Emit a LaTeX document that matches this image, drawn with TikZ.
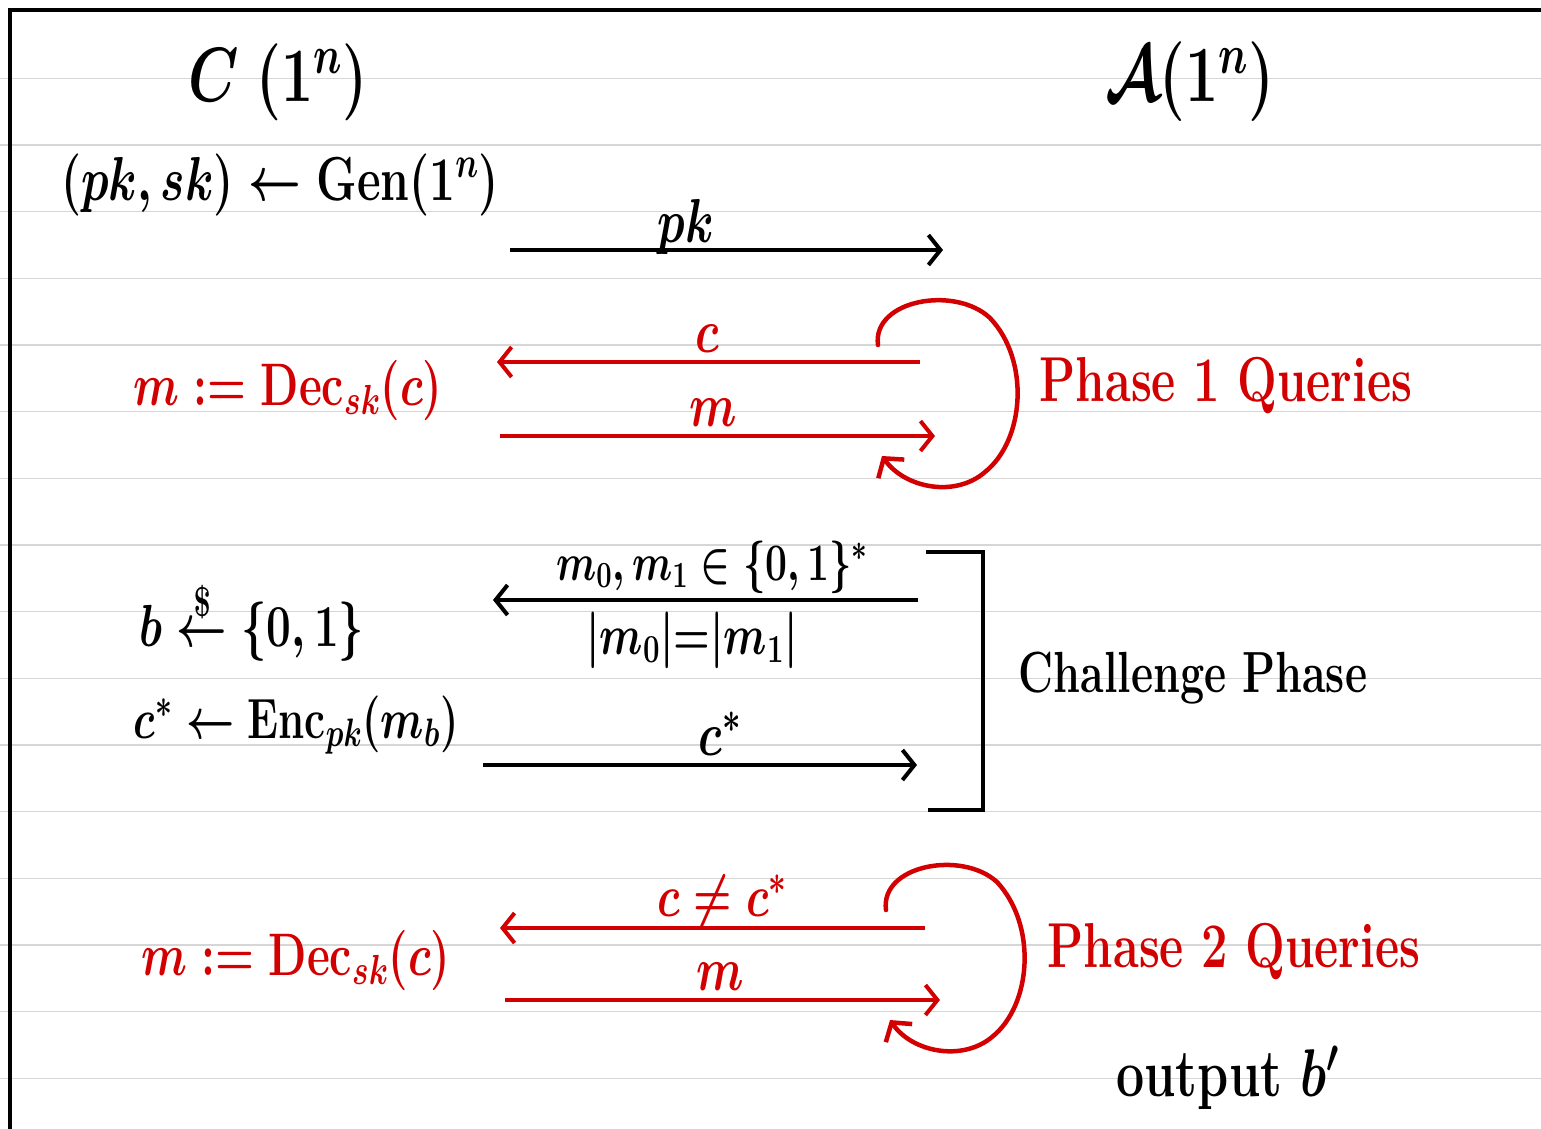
\RequirePackage{fix-cm}
\documentclass[tikz,border=0pt]{standalone}
\usepackage{amsmath}
\usetikzlibrary{arrows.meta}
\definecolor{hred}{RGB}{210,0,0}
\definecolor{rulegray}{RGB}{214,214,214}
\newcommand{\hwstretch}[1]{\scalebox{1}[1.35]{#1}}
\tikzset{
  hw/.style={font=\fontsize{#1}{#1}\selectfont\bfseries\boldmath, inner sep=0pt},
  hw/.default=46,
  redtxt/.style={hw=#1, text=hred},
  redtxt/.default=46,
  msg/.style={line width=4pt, -{Straight Barb[length=12pt,width=30pt]}},
  redmsg/.style={msg, draw=hred},
  ruleline/.style={draw=rulegray, line width=1.5pt},
  frame/.style={line width=4pt, line cap=rect},
  loopline/.style={draw=hred, line width=4.5pt, line cap=round, -{Straight Barb[length=13pt,width=32pt]}}
}
\begin{document}
\begin{tikzpicture}[x=1pt,y=-1pt]
\useasboundingbox (0,0) rectangle (1541,1128);
\fill[white] (0,0) rectangle (1541,1128);
% ruled paper
\foreach \k in {0,...,15}{
  \draw[ruleline] (0,{78.3+66.67*\k}) -- (1541,{78.3+66.67*\k});
}
% frame
\draw[frame] (10,1128) -- (10,10) -- (1541,10);

% parties
\node[hw=57] (C) at (278,82) {\hwstretch{$C\;(1^n)$}};
\node[hw=59] (A) at (1190,82) {\hwstretch{$\mathcal{A}(1^n)$}};

% key generation
\node[hw=46] (gen) at (280,185) {\hwstretch{$(pk,sk)\leftarrow \mathrm{Gen}(1^n)$}};
\coordinate (pkS) at (510,250);
\coordinate (pkE) at (943,250);
\draw[msg] (pkS) -- (pkE);
\node[hw=46, anchor=base] (pklab) at (686,242) {\hwstretch{$pk$}};

% phase 1
\coordinate (q1S) at (920,362);
\coordinate (q1E) at (497,362);
\draw[redmsg] (q1S) -- (q1E);
\node[redtxt=46, anchor=base] (c1lab) at (707,352) {\hwstretch{$c$}};
\coordinate (a1S) at (500,436);
\coordinate (a1E) at (935,436);
\draw[redmsg] (a1S) -- (a1E);
\node[redtxt=46, anchor=base] (m1lab) at (713,426) {\hwstretch{$m$}};
\coordinate (l1S) at (878,345);
\coordinate (l1E) at (882,456);
\draw[loopline] (l1S) .. controls (872,300) and (955,285) .. (990,318)
  .. controls (1030,360) and (1025,440) .. (985,472)
  .. controls (955,498) and (905,488) .. (l1E);
\node[redtxt=47] (ph1) at (1226,386) {\hwstretch{Phase 1 Queries}};
\node[redtxt=44.5] (dec1) at (288,390) {\hwstretch{$m\mathrel{:=}\mathrm{Dec}_{sk}(c)$}};

% challenge phase
\coordinate (chS) at (918,600);
\coordinate (chE) at (493,600);
\draw[msg] (chS) -- (chE);
\node[hw=39, anchor=base] (mlab) at (712,580) {\hwstretch{$m_0,m_1\in\{0,1\}^*$}};
\node[hw=42] (eqlab) at (692,640) {\hwstretch{$|m_0|{=}|m_1|$}};
\coordinate (csS) at (483,765);
\coordinate (csE) at (917,765);
\draw[msg] (csS) -- (csE);
\node[hw=46, anchor=base] (cslab) at (720,755) {\hwstretch{$c^*$}};
\coordinate (brA) at (926,552);
\coordinate (brB) at (983,552);
\coordinate (brC) at (983,810);
\coordinate (brD) at (928,810);
\draw[frame, line cap=butt] (brA) -- (brB) -- (brC) -- (brD);
\node[hw=43] (chal) at (1193,678) {\hwstretch{Challenge Phase}};
\node[hw=44] (bsamp) at (252,622) {\hwstretch{$b\overset{\$}{\leftarrow}\{0,1\}$}};
\node[hw=42] (enc) at (296,725) {\hwstretch{$c^*\leftarrow\mathrm{Enc}_{pk}(m_b)$}};

% phase 2
\coordinate (q2S) at (925,928);
\coordinate (q2E) at (500,928);
\draw[redmsg] (q2S) -- (q2E);
\node[redtxt=44, anchor=base] (c2lab) at (722,916) {\hwstretch{$c\neq c^*$}};
\coordinate (a2S) at (505,1000);
\coordinate (a2E) at (940,1000);
\draw[redmsg] (a2S) -- (a2E);
\node[redtxt=46, anchor=base] (m2lab) at (720,990) {\hwstretch{$m$}};
\coordinate (l2S) at (886,910);
\coordinate (l2E) at (890,1020);
\draw[loopline] (l2S) .. controls (880,865) and (962,850) .. (997,882)
  .. controls (1037,925) and (1032,1005) .. (992,1037)
  .. controls (962,1062) and (912,1052) .. (l2E);
\node[redtxt=47] (ph2) at (1234,951) {\hwstretch{Phase 2 Queries}};
\node[redtxt=44.5] (dec2) at (296,960) {\hwstretch{$m\mathrel{:=}\mathrm{Dec}_{sk}(c)$}};

% output
\node[hw=50] (out) at (1228,1078) {\hwstretch{output $b'$}};
\end{tikzpicture}
\end{document}
